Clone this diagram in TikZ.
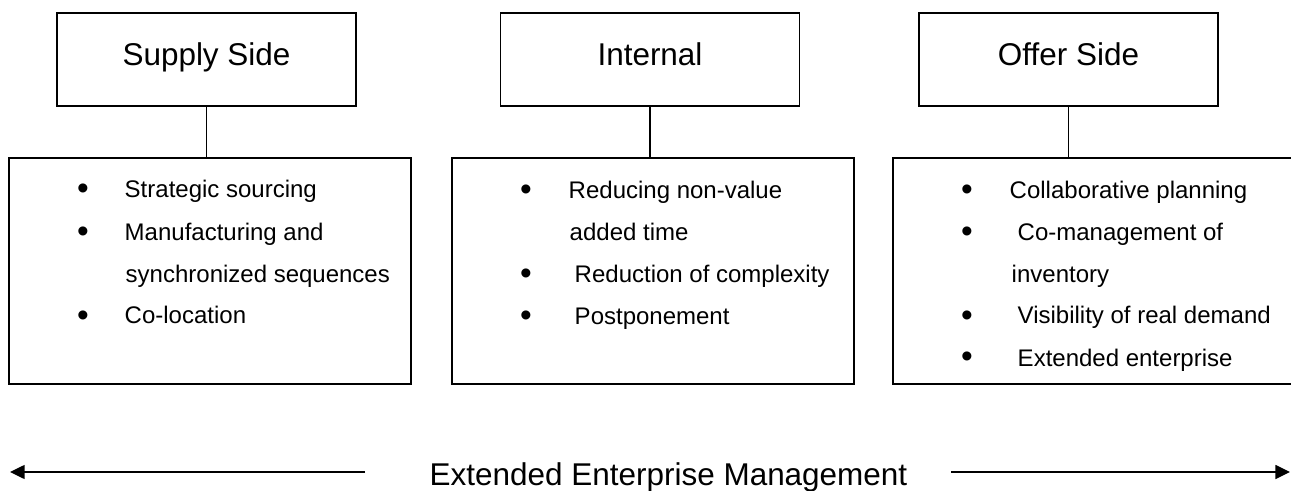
\documentclass[tikz,border=0pt]{standalone}
\usepackage{fontspec}
\setmainfont{Liberation Sans}
\usetikzlibrary{arrows.meta}

\begin{document}
\begin{tikzpicture}[
			x=0.75pt, y=-0.75pt,
			line width=1.1pt,
			headbox/.style={draw, minimum width=224pt, minimum height=69.75pt, inner sep=0pt, text height=14.2pt, text depth=5.9pt, font=\fontsize{23.6pt}{28pt}\selectfont},
			listbox/.style={draw, minimum width=301.5pt, minimum height=169.5pt, inner sep=0pt},
			entry/.style={anchor=base west, inner sep=0pt, font=\fontsize{18pt}{22pt}\selectfont},
			dot/.style={anchor=base, inner sep=0pt, yshift=-1.5pt, font=\fontsize{25pt}{28pt}\selectfont},
			arr/.style={-{Triangle[length=11pt, width=10.5pt]}},
		]
		\useasboundingbox (0,0) rectangle (1291,491);

		\node[headbox] (supply)   at (206.5, 59.5) {Supply Side};
		\node[headbox] (internal) at (650, 59.5)   {Internal};
		\node[headbox] (offer)    at (1068.5, 59.5) {Offer Side};

		\node[listbox] (supplylist)   at (210, 271)  {};
		\node[listbox] (internallist) at (653, 271)  {};
		\node[listbox] (offerlist)    at (1094, 271) {};

		\draw (supply.south)   -- (supply.south |- supplylist.north);
		\draw (internal.south) -- (internal.south |- internallist.north);
		\draw (offer.south)    -- (offer.south |- offerlist.north);

		% supply side
		\node[dot] (sb1) at (83, 198) {•};
		\node[dot] (sb2) at (83, 241) {•};
		\node[dot] (sb3) at (83, 324) {•};
		\node[entry] (s1) at (124, 198) {Strategic sourcing};
		\node[entry] (s2) at (124, 241) {Manufacturing and};
		\node[entry] (s3) at (125, 283) {synchronized sequences};
		\node[entry] (s4) at (124, 324) {Co-location};

		% internal
		\node[dot] (ib1) at (526, 199) {•};
		\node[dot] (ib2) at (526, 283) {•};
		\node[dot] (ib3) at (526, 325) {•};
		\node[entry] (i1) at (568, 199) {Reducing non-value};
		\node[entry] (i2) at (569, 241) {added time};
		\node[entry] (i3) at (574, 283) {Reduction of complexity};
		\node[entry] (i4) at (574, 325) {Postponement};

		% offer side
		\node[dot] (ob1) at (967, 199) {•};
		\node[dot] (ob2) at (967, 241) {•};
		\node[dot] (ob3) at (967, 324) {•};
		\node[dot] (ob4) at (967, 366) {•};
		\node[entry] (o1) at (1009, 199) {Collaborative planning};
		\node[entry] (o2) at (1017, 241) {Co-management of};
		\node[entry] (o3) at (1011, 283) {inventory};
		\node[entry] (o4) at (1017, 324) {Visibility of real demand};
		\node[entry] (o5) at (1017, 366) {Extended enterprise};

		% bottom caption with arrows
		\node[anchor=base, inner sep=0pt, font=\fontsize{23.6pt}{28pt}\selectfont] (eem) at (668.5, 485) {Extended Enterprise Management};
		\coordinate (lstart) at (365, 472);
		\coordinate (ltip)   at (10, 472);
		\coordinate (rstart) at (951, 472);
		\coordinate (rtip)   at (1290, 472);
		\draw[arr] (lstart) -- (ltip);
		\draw[arr] (rstart) -- (rtip);
	\end{tikzpicture}
\end{document}
